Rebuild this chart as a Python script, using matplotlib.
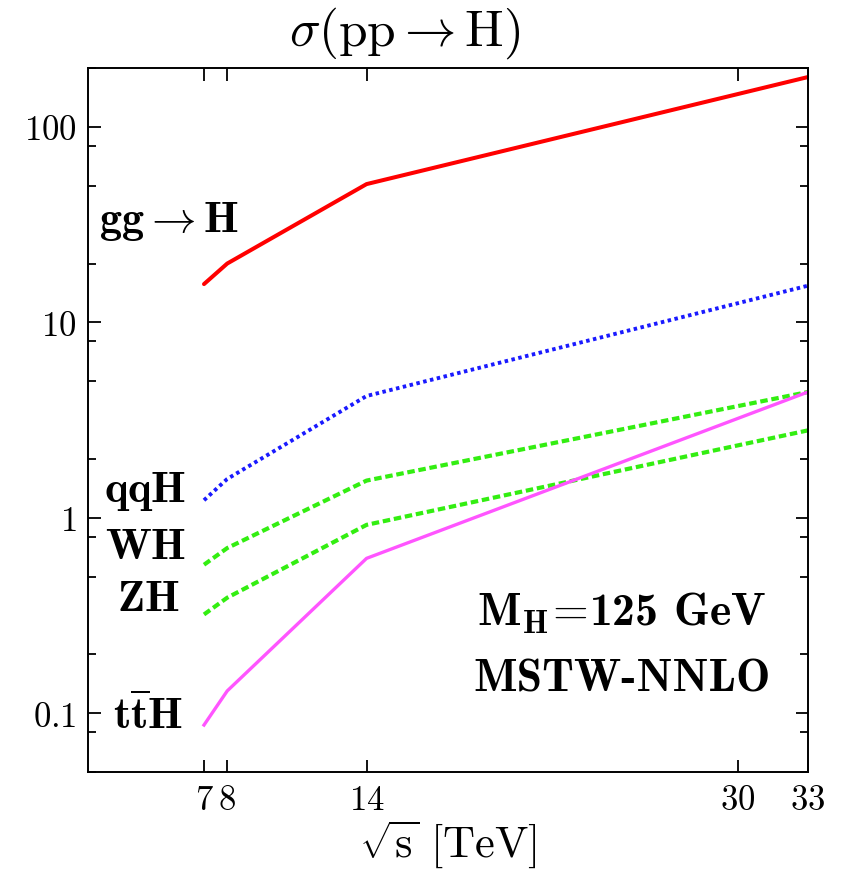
import numpy as np
import matplotlib
matplotlib.use("Agg")
import matplotlib.pyplot as plt
from matplotlib.ticker import LogLocator, NullFormatter, FixedLocator

plt.rcParams['mathtext.fontset'] = 'cm'
plt.rcParams['font.family'] = 'serif'

# cross sections in pb vs sqrt(s) in TeV
sqrt_s = [7, 8, 14, 33]
xs_ggH = [15.7, 20.0, 51.0, 180.0]
xs_qqH = [1.23, 1.58, 4.2, 15.4]
xs_WH = [0.575, 0.70, 1.55, 4.4]
xs_ZH = [0.32, 0.39, 0.92, 2.8]
xs_ttH = [0.087, 0.13, 0.62, 4.4]

x_ticks = [7, 8, 14, 30, 33]
y_ticks = [0.1, 1, 10, 100]
y_ticklabels = ['0.1', '1', '10', '100']

fig = plt.figure(figsize=(8.45, 8.69), dpi=100)
ax = fig.add_axes([0.104, 0.1116, 0.852, 0.810])

ax.plot(sqrt_s, xs_ggH, color='#ff0000', lw=2.9, solid_capstyle='round')
ax.plot(sqrt_s, xs_qqH, color='#1a1aff', lw=2.8, linestyle=(0, (0.9, 0.9)))
ax.plot(sqrt_s, xs_WH, color='#33ee11', lw=3.0, linestyle=(0, (1.8, 0.9)))
ax.plot(sqrt_s, xs_ZH, color='#33ee11', lw=3.0, linestyle=(0, (1.8, 0.9)))
ax.plot(sqrt_s, xs_ttH, color='#ff55ff', lw=2.4)

ax.set_yscale('log')
ax.set_xlim(2, 33)
ax.set_ylim(0.05, 200)

ax.xaxis.set_major_locator(FixedLocator(x_ticks))
ax.set_xticklabels([f'${t}$' for t in x_ticks])
ax.yaxis.set_major_locator(FixedLocator(y_ticks))
ax.set_yticklabels([f'${t}$' for t in y_ticklabels])
ax.yaxis.set_minor_locator(LogLocator(base=10, subs=(2, 5, 8)))
ax.yaxis.set_minor_formatter(NullFormatter())

ax.tick_params(which='both', direction='in', top=True, right=True, width=1.3)
ax.tick_params(which='major', length=9, labelsize=25, pad=8)
ax.tick_params(which='minor', length=5.5)
for s in ax.spines.values():
    s.set_linewidth(1.4)

ax.set_xlabel(r'$\sqrt{\mathrm{s}}\ [\mathrm{TeV}]$', fontsize=32, labelpad=1)
fig.text(0.479, 0.962, r'$\sigma(\mathrm{pp}\rightarrow\mathrm{H})$',
         fontsize=37, ha='center', va='center')

# process labels
lab_kw = dict(fontsize=32, va='center')
ax.text(2.5, 33, r'$\mathbf{gg\rightarrow H}$', ha='left', **lab_kw)
ax.text(6.25, 1.37, r'$\mathbf{qqH}$', ha='right', **lab_kw)
ax.text(6.25, 0.71, r'$\mathbf{WH}$', ha='right', **lab_kw)
ax.text(5.95, 0.385, r'$\mathbf{ZH}$', ha='right', **lab_kw)
ax.text(6.1, 0.097, r'$\mathbf{t\overline{t}H}$', ha='right', **lab_kw)

ax.text(25.0, 0.323, r'$\mathbf{M_H\!=\!}$125 GeV', ha='center',
        family='cmb10', fontsize=33, va='center')
ax.text(25.0, 0.148, 'MSTW-NNLO', ha='center', family='cmb10',
        fontsize=33, va='center')

fig.savefig('out.png', dpi=100)
